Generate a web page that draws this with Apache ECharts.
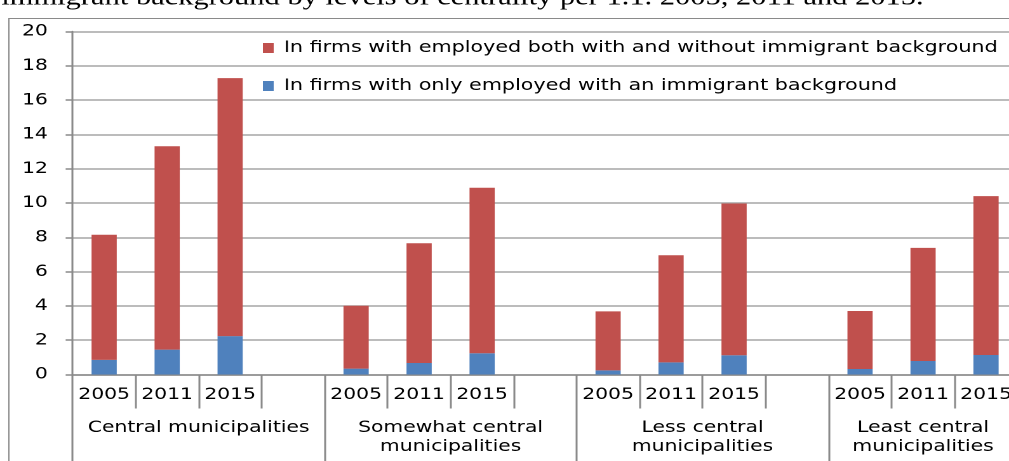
<!DOCTYPE html>
<html>
<head>
<meta charset="utf-8">
<script src="https://cdn.jsdelivr.net/npm/echarts@6/dist/echarts.min.js"></script>
<style>
  html, body { margin: 0; padding: 0; width: 1009px; height: 461px; overflow: hidden; background: #fff; }
  /* The chart is laid out narrow and stretched sideways so the wide lettering fits */
  #chart { width: 880px; height: 461px; transform: scaleX(1.27); transform-origin: 0 0; }
</style>
</head>
<body>
<div id="chart"></div>
<script>
// Share of employed persons (%) by centrality of municipality, 2005 / 2011 / 2015
const groups = ['Central municipalities', 'Somewhat central\nmunicipalities', 'Less central\nmunicipalities', 'Least central\nmunicipalities'];
const years = ['2005', '2011', '2015'];
const yTicks = [0, 2, 4, 6, 8, 10, 12, 14, 16, 18, 20];

const seriesMixedName = 'In firms with employed both with and without immigrant background';
const seriesOnlyName = 'In firms with only employed with an immigrant background';

// Only-immigrant firms (blue, bottom of each stack), per group: 2005, 2011, 2015
const onlyCentral   = [0.85, 1.45, 2.24];
const onlySomewhat  = [0.34, 0.67, 1.24];
const onlyLess      = [0.24, 0.71, 1.12];
const onlyLeast     = [0.32, 0.79, 1.14];

// Mixed firms (red, stacked on top), per group: 2005, 2011, 2015
const mixedCentral  = [7.30, 11.86, 15.04];
const mixedSomewhat = [3.67, 6.98, 9.65];
const mixedLess     = [3.44, 6.24, 8.85];
const mixedLeast    = [3.38, 6.59, 9.26];

const titleText = 'immigrant background by levels of centrality per 1.1. 2005, 2011 and 2015.';

// Each group gets its three years; an empty spacer slot separates consecutive groups
const yearCats = [];
const groupStarts = [];   // slot index where each group begins
groups.forEach((g, gi) => {
  groupStarts.push(yearCats.length);
  years.forEach(y => yearCats.push(y));
  if (gi < groups.length - 1) yearCats.push('');
});
const slotCount = yearCats.length;
const groupEnds = groupStarts.map((s, i) => (i < groupStarts.length - 1 ? groupStarts[i + 1] : slotCount));
const groupCentres = groupStarts.map((s, i) => (s + groupEnds[i]) / 2);
const groupBounds = groupStarts.concat([slotCount]);

function withSpacers(parts) {
  const out = [];
  parts.forEach((p, i) => { p.forEach(v => out.push(v)); if (i < parts.length - 1) out.push('-'); });
  return out;
}
const onlyData = withSpacers([onlyCentral, onlySomewhat, onlyLess, onlyLeast]);
const mixedData = withSpacers([mixedCentral, mixedSomewhat, mixedLess, mixedLeast]);

const AXIS_GREY = '#8a8a8a';
const GRID_GREY = '#a6a6a6';
const FONT = 'DejaVu Sans';

const chart = echarts.init(document.getElementById('chart'), null, { renderer: 'canvas', devicePixelRatio: 2 });

chart.setOption({
  animation: false,
  backgroundColor: '#ffffff',
  textStyle: { fontFamily: FONT, color: '#000' },
  graphic: [
    {
      type: 'text',
      left: 1, top: -14,
      style: { text: titleText, font: '24px "Liberation Serif"', fill: '#000' },
      silent: true
    },
    {
      type: 'rect',
      shape: { x: 7, y: 18.5, width: 2000, height: 1000 },
      style: { fill: 'none', stroke: AXIS_GREY, lineWidth: 1 },
      silent: true, z: -1
    }
  ],
  legend: {
    orient: 'vertical',
    left: 207,
    top: 38,
    padding: 0,
    data: [seriesMixedName, seriesOnlyName],
    itemWidth: 8.5,
    itemHeight: 10,
    itemGap: 18,
    icon: 'rect',
    selectedMode: false,
    textStyle: { fontFamily: FONT, fontSize: 16.3, color: '#000', lineHeight: 20, padding: [0, 0, 0, 3] }
  },
  grid: { left: 57.2, width: 744, top: 31.5, bottom: 86.5, containLabel: false },
  xAxis: [
    {
      type: 'category',
      data: yearCats,
      position: 'bottom',
      axisLine: { show: true, lineStyle: { color: AXIS_GREY, width: 1.5 } },
      axisTick: { show: true, interval: 0, length: 34, lineStyle: { color: AXIS_GREY, width: 1.5 } },
      axisLabel: { interval: 0, margin: 11, fontFamily: FONT, fontSize: 16, color: '#000', lineHeight: 19 },
      splitLine: { show: false }
    },
    {
      // Group row: boundaries between groups and the group names centred under them
      type: 'value',
      min: 0,
      max: slotCount,
      position: 'bottom',
      axisLine: { show: false },
      axisTick: { show: true, customValues: groupBounds, length: 100, lineStyle: { color: AXIS_GREY, width: 1.5 } },
      axisLabel: {
        customValues: groupCentres,
        formatter: (v) => { const i = groupCentres.indexOf(v); return i >= 0 ? groups[i] : ''; },
        margin: 44, fontFamily: FONT, fontSize: 16, color: '#000', lineHeight: 19, align: 'center'
      },
      splitLine: { show: false }
    }
  ],
  yAxis: {
    type: 'value',
    min: yTicks[0],
    max: yTicks[yTicks.length - 1],
    interval: yTicks[1] - yTicks[0],
    axisLine: { show: true, lineStyle: { color: AXIS_GREY, width: 1.5 } },
    axisTick: { show: true, length: 5.5, lineStyle: { color: AXIS_GREY, width: 1.5 } },
    axisLabel: { margin: 19.5, fontFamily: FONT, fontSize: 16, color: '#000' },
    splitLine: { show: true, lineStyle: { color: GRID_GREY, width: 1.5 } }
  },
  series: [
    {
      name: seriesOnlyName,
      type: 'bar',
      stack: 'total',
      xAxisIndex: 0,
      barWidth: '40%',
      itemStyle: { color: '#4F81BD' },
      data: onlyData
    },
    {
      name: seriesMixedName,
      type: 'bar',
      stack: 'total',
      xAxisIndex: 0,
      barWidth: '40%',
      itemStyle: { color: '#C0504D' },
      data: mixedData
    }
  ]
});
</script>
</body>
</html>
